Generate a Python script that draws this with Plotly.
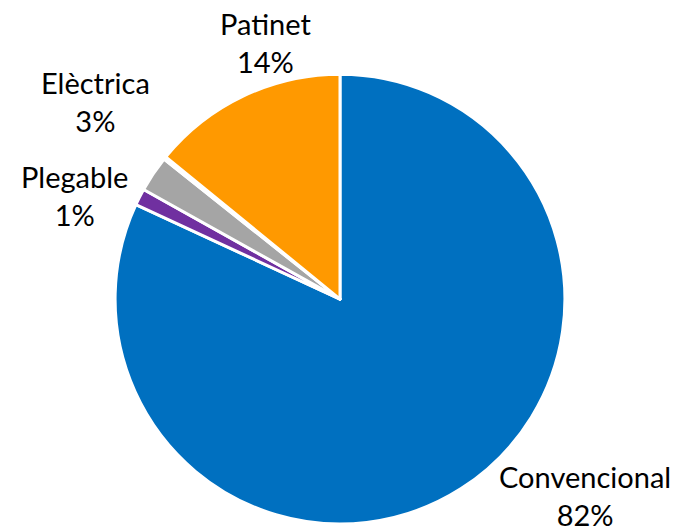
import plotly.graph_objects as go

# Share of vehicle types (percent)
categories = ["Convencional", "Plegable", "Elèctrica", "Altres", "Patinet"]
values = [81.9, 1.2, 2.6, 0.2, 14.1]
colors = ["#0070C0", "#7030A0", "#A5A5A5", "#C00000", "#FF9900"]
show_label = [True, True, True, False, True]

# Label centre points in paper coordinates
label_pos = {
    "Convencional": (0.866, 0.065),
    "Plegable": (0.111, 0.632),
    "Elèctrica": (0.141, 0.808),
    "Patinet": (0.393, 0.920),
}

fig = go.Figure(
    go.Pie(
        labels=categories,
        values=values,
        marker=dict(colors=colors, line=dict(color="white", width=3)),
        sort=False,
        direction="clockwise",
        rotation=0,
        textinfo="none",
        hoverinfo="label+percent",
        domain=dict(x=[0.1704, 0.837], y=[0.0113, 0.860]),
    )
)

total = sum(values)
for name, val, show in zip(categories, values, show_label):
    if not show:
        continue
    x, y = label_pos[name]
    fig.add_annotation(
        x=x, y=y, xref="paper", yref="paper",
        xanchor="center", yanchor="middle",
        text=f"{name}<br>{round(val / total * 100)}%",
        showarrow=False,
        align="center",
        font=dict(family="Lato", size=29, color="#000000"),
    )

fig.update_layout(
    width=675, height=530,
    margin=dict(l=0, r=0, t=0, b=0),
    showlegend=False,
    paper_bgcolor="white",
    plot_bgcolor="white",
)

fig.write_html("out.html")
